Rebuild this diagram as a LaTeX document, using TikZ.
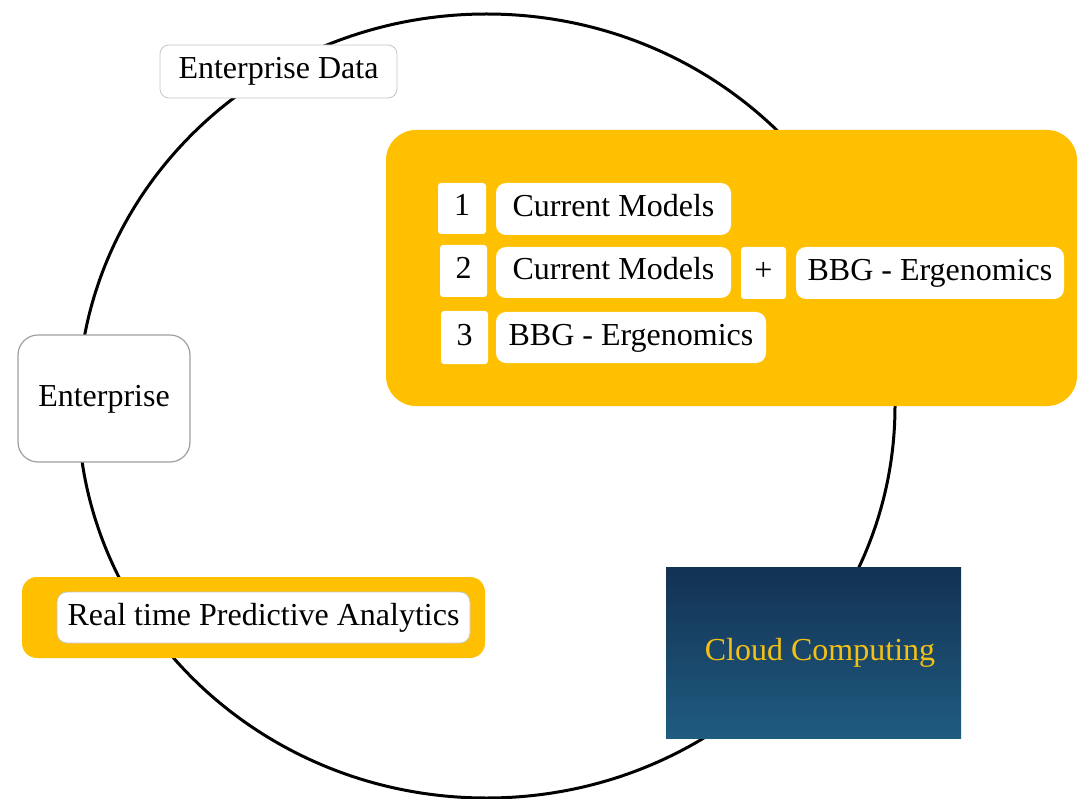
\documentclass[tikz,border=0pt]{standalone}
\usepackage{fontspec}
\setmainfont{Liberation Serif}
\definecolor{gold}{RGB}{254,192,0}
\definecolor{navytop}{RGB}{19,49,83}
\definecolor{navybot}{RGB}{31,92,128}
\definecolor{cloudtext}{RGB}{245,192,20}
\begin{document}
\begin{tikzpicture}[x=1pt,y=1pt,
  every node/.style={font=\fontsize{32}{38}\selectfont, inner sep=0pt, text height=22pt, text depth=7pt},
  lightbox/.style={fill=white, draw=gray!45, line width=0.8pt, rounded corners=9pt},
  whitebox/.style={fill=white, rounded corners=10pt},
  numbox/.style={fill=white, rounded corners=3pt},
  goldpanel/.style={fill=gold, draw=none},
  ring/.style={draw=black, line width=3pt}
]
\useasboundingbox (0,0) rectangle (1078,-799);

% the cycle behind all boxes
\draw[ring] (486.5,-406) ellipse [x radius=408.5, y radius=392];

% top label
\node[lightbox, minimum width=237pt, minimum height=53pt] (edata) at (278.5,-71.5) {Enterprise Data};

% model options panel
\node[goldpanel, rounded corners=30pt, minimum width=691pt, minimum height=276pt] (panel) at (731.5,-268) {};
\node[numbox, minimum width=48pt, minimum height=51pt] (n1) at (462,-208.5) {1};
\node[whitebox, minimum width=235pt, minimum height=52pt] (cm1) at (613.5,-209) {Current Models};
\node[numbox, minimum width=47pt, minimum height=52pt] (n2) at (463.5,-271) {2};
\node[whitebox, minimum width=235pt, minimum height=51pt] (cm2) at (613.5,-272.5) {Current Models};
\node[numbox, minimum width=45pt, minimum height=52pt] (plus) at (763.5,-273) {+};
\node[whitebox, minimum width=268pt, minimum height=52pt] (bbg2) at (930,-273) {BBG - Ergenomics};
\node[numbox, minimum width=47pt, minimum height=53pt] (n3) at (464.5,-337.5) {3};
\node[whitebox, minimum width=270pt, minimum height=51pt] (bbg3) at (631,-337.5) {BBG - Ergenomics};

% left label
\node[fill=white, draw=gray!75, line width=1.2pt, rounded corners=20pt, minimum width=172pt, minimum height=127pt] (ent) at (104,-398.5) {Enterprise};

% analytics label on gold band
\node[goldpanel, rounded corners=15pt, minimum width=463pt, minimum height=81pt] (rtband) at (253.5,-617.5) {};
\node[lightbox, rounded corners=10pt, minimum width=413pt, minimum height=51pt] (rta) at (263.5,-617.5) {Real time Predictive Analytics};

% cloud block
\node[top color=navytop, bottom color=navybot, minimum width=295pt, minimum height=171pt, text=cloudtext] (cloud) at (813.5,-652.5) {\hspace*{13pt}Cloud Computing};
\end{tikzpicture}
\end{document}
